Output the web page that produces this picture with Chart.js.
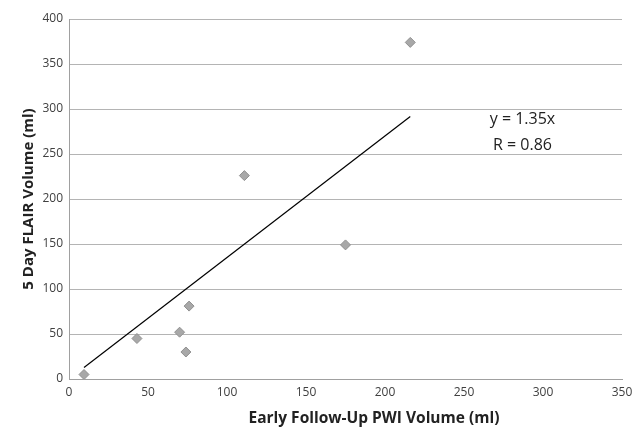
<!DOCTYPE html>
<html>
<head>
<meta charset="utf-8">
<script src="https://cdn.jsdelivr.net/npm/chart.js@4"></script>
<style>
  html, body { margin: 0; padding: 0; background: #fff; }
  #wrap { width: 644px; height: 427px; }
</style>
</head>
<body>
<div id="wrap"><canvas id="chart"></canvas></div>
<script>
// PWI volume (x) vs FLAIR volume (y)
const pwiVolume   = [9.5, 43, 70, 74, 76, 111, 175, 216];
const flairVolume = [5, 45, 52, 30, 81, 226, 149, 374];
const slope = 1.35;
const fitLabel = ['y = 1.35x', 'R = 0.86'];
const labelAt = { x: 287, y: 288 };
const xTitle = 'Early Follow-Up PWI Volume (ml)';
const xTitleAt = 193; // x value the title is centred on

const points = pwiVolume.map((x, i) => ({ x, y: flairVolume[i] }));
const xMin = Math.min(...pwiVolume);
const xMax = Math.max(...pwiVolume);
const fitLine = [
  { x: xMin, y: slope * xMin },
  { x: xMax, y: slope * xMax }
];

const font = "'Open Sans', 'Liberation Sans', sans-serif";

// draws the regression equation and the x axis title
const fitText = {
  id: 'fitText',
  afterDraw(chart) {
    const { ctx, scales } = chart;
    const px = scales.x.getPixelForValue(labelAt.x);
    const py = scales.y.getPixelForValue(labelAt.y);
    ctx.save();
    ctx.font = '16px ' + font;
    ctx.fillStyle = '#222';
    ctx.textAlign = 'center';
    ctx.textBaseline = 'middle';
    fitLabel.forEach((t, i) => ctx.fillText(t, px, py + i * 26));

    ctx.font = 'bold 15.5px ' + font;
    ctx.fillText(xTitle, scales.x.getPixelForValue(xTitleAt), scales.x.bottom - 8);
    ctx.restore();
  }
};

new Chart(document.getElementById('chart'), {
  type: 'scatter',
  data: {
    datasets: [
      {
        label: 'Patients',
        data: points,
        pointStyle: 'rectRot',
        pointRadius: 5,
        backgroundColor: '#a8a8a8',
        borderColor: '#909090',
        borderWidth: 1
      },
      {
        type: 'line',
        label: 'Fit',
        data: fitLine,
        borderColor: '#000',
        borderWidth: 1.2,
        pointRadius: 0,
        fill: false
      }
    ]
  },
  options: {
    responsive: true,
    maintainAspectRatio: false,
    animation: false,
    layout: { padding: { top: 19, right: 22, left: 0, bottom: 0 } },
    plugins: {
      legend: { display: false },
      tooltip: { enabled: false }
    },
    scales: {
      x: {
        type: 'linear',
        min: 0, max: 350,
        ticks: { stepSize: 50, color: '#404040', font: { size: 12, family: font }, padding: 6 },
        grid: { display: false, drawTicks: false },
        border: { color: '#a0a0a0', width: 1 },
        title: { display: false },
        afterFit: s => { s.height = 48; }
      },
      y: {
        min: 0, max: 400,
        ticks: { stepSize: 50, color: '#404040', font: { size: 12, family: font }, padding: 6 },
        grid: { color: '#b4b4b4', lineWidth: 1, drawTicks: false },
        border: { color: '#a0a0a0', width: 1 },
        title: {
          display: true,
          text: '5 Day FLAIR Volume (ml)',
          color: '#222',
          font: { size: 15, weight: 'bold', family: font },
          padding: { top: 20, bottom: 4 }
        },
        afterFit: s => { s.width = 69; }
      }
    }
  },
  plugins: [fitText]
});
</script>
</body>
</html>
